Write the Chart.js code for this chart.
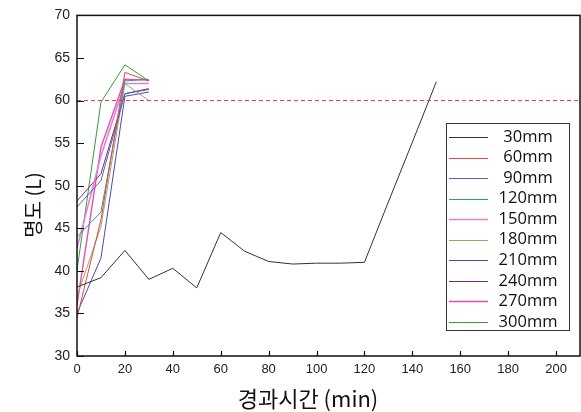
<!DOCTYPE html>
<html><head><meta charset="utf-8">
<script src="https://cdn.jsdelivr.net/npm/chart.js@4/dist/chart.umd.min.js"></script>
<style>html,body{margin:0;padding:0;background:#fff}#wrap{width:581px;height:412px}</style>
</head><body><div id="wrap"><canvas id="c" width="581" height="412"></canvas></div>
<script>
// ---- data ----
const timeShort = [0, 10, 20, 30];
const timeLong = [0, 10, 20, 30, 40, 50, 60, 70, 80, 90, 100, 110, 120, 130, 140, 150];
const v30mm  = [38.1, 39.2, 42.4, 39.0, 40.3, 38.0, 44.5, 42.3, 41.1, 40.8, 40.9, 40.9, 41.0, 48.1, 55.1, 62.2];
const v60mm  = [34.5, 46.0, 63.3, 62.3];
const v90mm  = [47.5, 50.6, 60.8, 61.3];
const v120mm = [44.0, 46.9, 62.3, 62.5];
const v150mm = [42.7, 53.5, 62.0, 62.0];
const v180mm = [37.0, 45.2, 62.0, 60.0];
const v210mm = [35.0, 41.5, 60.5, 61.0];
const v240mm = [48.2, 51.4, 60.8, 61.4];
const v270mm = [36.0, 54.5, 62.5, 62.4];
const v300mm = [40.1, 59.8, 64.2, 62.3];
const seriesLabels = ['30mm','60mm','90mm','120mm','150mm','180mm','210mm','240mm','270mm','300mm'];
const thresholdX = [0, 210];
const thresholdY = [60, 60];
const xTicks = [0, 20, 40, 60, 80, 100, 120, 140, 160, 180, 200];
const yTicks = [30, 35, 40, 45, 50, 55, 60, 65, 70];
const xTitle = '경과시간 (min)';
const yTitle = '명도 (L)';

const seriesValues = [v30mm, v60mm, v90mm, v120mm, v150mm, v180mm, v210mm, v240mm, v270mm, v300mm];
const seriesColors = ['#333333','#e04848','#5a5ac8','#2a9d8f','#e080d8','#a8a060','#4a4ab0','#703070','#e050b0','#3a9a3a'];
const seriesWidths = [1,1,1,1,1.6,1,1,1,1.4,1];

function pts(xs, ys){ return xs.map((x,i)=>({x:x, y:ys[i]})); }

const datasets = [{
  label: '_threshold',
  data: pts(thresholdX, thresholdY),
  borderColor: '#e04040', borderWidth: 1, borderDash: [4,3],
  pointRadius: 0, tension: 0, fill: false
}];
seriesValues.forEach((vals, i) => {
  datasets.push({
    label: seriesLabels[i],
    data: pts(i === 0 ? timeLong : timeShort, vals),
    borderColor: seriesColors[i], backgroundColor: seriesColors[i],
    borderWidth: seriesWidths[i], pointRadius: 0, tension: 0, fill: false
  });
});

const decor = {
  id: 'decor',
  afterDraw(chart){
    const ctx = chart.ctx, a = chart.chartArea;
    const xs = chart.scales.x, ys = chart.scales.y;
    ctx.save();
    // frame
    ctx.strokeStyle = '#111'; ctx.lineWidth = 1.5;
    ctx.strokeRect(a.left, a.top, a.right - a.left, a.bottom - a.top);
    // inward ticks
    ctx.lineWidth = 1.2;
    ctx.beginPath();
    yTicks.forEach(v => { const p = Math.round(ys.getPixelForValue(v)) + 0.5; ctx.moveTo(a.left, p); ctx.lineTo(a.left + 7, p); });
    xTicks.forEach(v => { const p = Math.round(xs.getPixelForValue(v)) + 0.5; ctx.moveTo(p, a.bottom); ctx.lineTo(p, a.bottom - 5); });
    ctx.stroke();
    // titles
    ctx.fillStyle = '#111';
    ctx.font = '22px "Noto Sans CJK KR"';
    ctx.textAlign = 'center'; ctx.textBaseline = 'middle';
    ctx.fillText(xTitle, 308, 399);
    ctx.save();
    ctx.translate(33, 205); ctx.rotate(-Math.PI/2);
    ctx.font = '20px "Noto Sans CJK KR"';
    ctx.fillText(yTitle, 0, 0);
    ctx.restore();
    // legend
    const L = 446, T = 123, R = 569, B = 330;
    ctx.fillStyle = '#fff';
    ctx.fillRect(L, T, R - L, B - T);
    ctx.strokeStyle = '#333'; ctx.lineWidth = 1;
    ctx.strokeRect(L + 0.5, T + 0.5, R - L, B - T);
    ctx.font = '16.5px "Open Sans"';
    ctx.textAlign = 'center'; ctx.textBaseline = 'middle';
    chart.data.datasets.forEach((ds, i) => {
      if (ds.label.startsWith('_')) return;
      const k = i - 1;
      const y = 137 + k * 20.55;
      ctx.strokeStyle = ds.borderColor; ctx.lineWidth = ds.borderWidth;
      ctx.beginPath(); ctx.moveTo(449, Math.round(y) + 0.5); ctx.lineTo(488, Math.round(y) + 0.5); ctx.stroke();
      ctx.fillStyle = '#111';
      ctx.fillText(ds.label, 528, y);
    });
    ctx.restore();
  }
};

new Chart(document.getElementById('c'), {
  type: 'line',
  data: { datasets },
  options: {
    responsive: false, animation: false, devicePixelRatio: 1,
    layout: { padding: { top: 15, right: 1, left: 0, bottom: 0 } },
    plugins: { legend: { display: false }, tooltip: { enabled: false } },
    scales: {
      x: {
        type: 'linear', min: 0, max: 210,
        afterBuildTicks: s => { s.ticks = xTicks.map(v => ({ value: v })); },
        afterFit: s => { s.height = 56; },
        grid: { display: false, drawTicks: false },
        border: { display: false },
        ticks: { padding: 6, color: '#222', font: { family: '"Liberation Sans", Arial', size: 13 } }
      },
      y: {
        type: 'linear', min: 30, max: 70,
        afterBuildTicks: s => { s.ticks = yTicks.map(v => ({ value: v })); },
        afterFit: s => { s.width = 77; },
        grid: { display: false, drawTicks: false },
        border: { display: false },
        ticks: { padding: 7, color: '#222', font: { family: '"Liberation Sans", Arial', size: 14 } }
      }
    }
  },
  plugins: [decor]
});
</script>
</body></html>
